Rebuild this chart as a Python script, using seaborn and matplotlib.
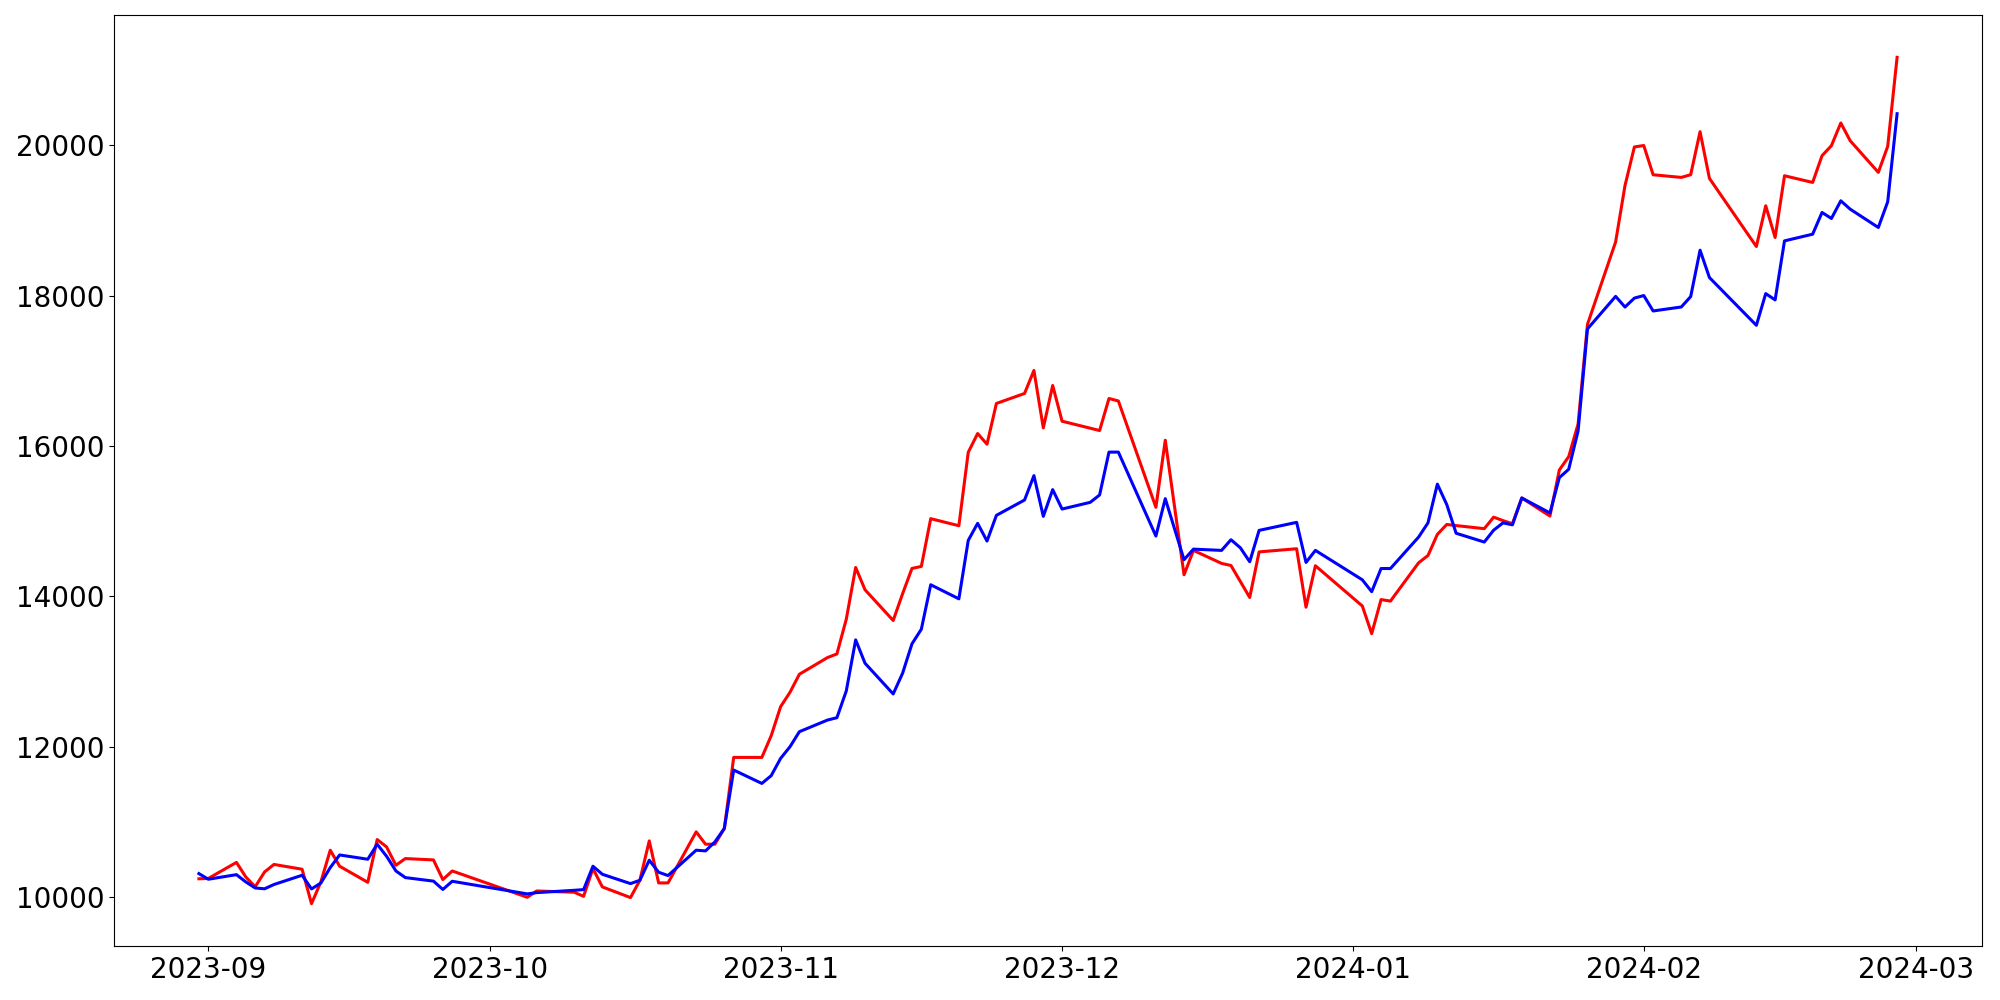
import pandas as pd
import seaborn as sns
import matplotlib
matplotlib.use("Agg")
import matplotlib.pyplot as plt

# trading days (a few holidays / missing days in between)
dates = [
    "2023-08-31", "2023-09-01", "2023-09-04", "2023-09-05", "2023-09-06", "2023-09-07", "2023-09-08",
    "2023-09-11", "2023-09-12", "2023-09-13", "2023-09-14", "2023-09-15", "2023-09-18", "2023-09-19",
    "2023-09-20", "2023-09-21", "2023-09-22", "2023-09-25", "2023-09-26", "2023-09-27",
    "2023-10-05", "2023-10-06", "2023-10-10", "2023-10-11", "2023-10-12", "2023-10-13", "2023-10-16",
    "2023-10-17", "2023-10-18", "2023-10-19", "2023-10-20", "2023-10-23", "2023-10-24", "2023-10-25",
    "2023-10-26", "2023-10-27", "2023-10-30", "2023-10-31",
    "2023-11-01", "2023-11-02", "2023-11-03", "2023-11-06", "2023-11-07", "2023-11-08", "2023-11-09",
    "2023-11-10", "2023-11-13", "2023-11-14", "2023-11-15", "2023-11-16", "2023-11-17", "2023-11-20",
    "2023-11-21", "2023-11-22", "2023-11-23", "2023-11-24", "2023-11-27", "2023-11-28", "2023-11-29",
    "2023-11-30",
    "2023-12-01", "2023-12-04", "2023-12-05", "2023-12-06", "2023-12-07", "2023-12-11", "2023-12-12",
    "2023-12-14", "2023-12-15", "2023-12-18", "2023-12-19", "2023-12-20", "2023-12-21", "2023-12-22",
    "2023-12-26", "2023-12-27", "2023-12-28",
    "2024-01-02", "2024-01-03", "2024-01-04", "2024-01-05", "2024-01-08", "2024-01-09", "2024-01-10",
    "2024-01-11", "2024-01-12", "2024-01-15", "2024-01-16", "2024-01-17", "2024-01-18", "2024-01-19",
    "2024-01-22", "2024-01-23", "2024-01-24", "2024-01-25", "2024-01-26", "2024-01-29", "2024-01-30",
    "2024-01-31",
    "2024-02-01", "2024-02-02", "2024-02-05", "2024-02-06", "2024-02-07", "2024-02-08", "2024-02-13",
    "2024-02-14", "2024-02-15", "2024-02-16", "2024-02-19", "2024-02-20", "2024-02-21", "2024-02-22",
    "2024-02-23", "2024-02-26", "2024-02-27", "2024-02-28",
]

red_values = [
    10246, 10250, 10464, 10270, 10140, 10337, 10437, 10373, 9915, 10204, 10626, 10413, 10199, 10768,
    10670, 10426, 10515, 10497, 10235, 10350,
    10000, 10084, 10067, 10013, 10382, 10138, 9996, 10226, 10750, 10191, 10191, 10870, 10706, 10706,
    10915, 11860, 11860, 12150,
    12535, 12726, 12966, 13188, 13236, 13698, 14386, 14089, 13681, 14036, 14373, 14400, 15035, 14941,
    15918, 16167, 16025, 16567, 16700, 17006, 16242, 16806,
    16331, 16238, 16207, 16633, 16600, 15186, 16078, 14289, 14613, 14440, 14412, 14200, 13987, 14593,
    14635, 13858, 14409,
    13874, 13506, 13959, 13939, 14448, 14545, 14826, 14958, 14943, 14902, 15055, 15009, 14968, 15310,
    15070, 15682, 15860, 16294, 17619, 18715, 19465, 19978,
    19997, 19608, 19573, 19609, 20181, 19560, 18654, 19196, 18774, 19595, 19506, 19862, 19995, 20297,
    20061, 19640, 19986, 21170,
]

blue_values = [
    10315, 10240, 10301, 10204, 10124, 10113, 10170, 10293, 10111, 10190, 10395, 10563, 10506, 10706,
    10546, 10350, 10262, 10215, 10104, 10213,
    10045, 10062, 10093, 10102, 10413, 10306, 10182, 10226, 10493, 10333, 10289, 10626, 10617, 10737,
    10915, 11692, 11514, 11618,
    11847, 12002, 12202, 12357, 12388, 12744, 13423, 13112, 12704, 12979, 13370, 13565, 14156, 13969,
    14746, 14973, 14737, 15079, 15283, 15607, 15066, 15421,
    15163, 15252, 15350, 15920, 15920, 14804, 15301, 14489, 14630, 14613, 14755, 14648, 14462, 14879,
    14986, 14453, 14613,
    14222, 14064, 14372, 14372, 14790, 14979, 15494, 15223, 14841, 14724, 14882, 14979, 14953, 15310,
    15111, 15580, 15692, 16202, 17558, 17991, 17849, 17968,
    18002, 17797, 17850, 17988, 18605, 18241, 17606, 18028, 17944, 18729, 18818, 19107, 19027, 19262,
    19151, 18907, 19249, 20420,
]

df = pd.DataFrame({
    "date": pd.to_datetime(dates),
    "red": red_values,
    "blue": blue_values,
})

fig, ax = plt.subplots(figsize=(20, 10), dpi=100)
sns.lineplot(data=df, x="date", y="red", color="red", linewidth=2.2, ax=ax)
sns.lineplot(data=df, x="date", y="blue", color="blue", linewidth=2.2, ax=ax)

ax.set_xlabel("")
ax.set_ylabel("")
ax.tick_params(axis="both", labelsize=20)

fig.subplots_adjust(left=0.057, right=0.991, top=0.985, bottom=0.054)
fig.savefig("out.png", dpi=100)
